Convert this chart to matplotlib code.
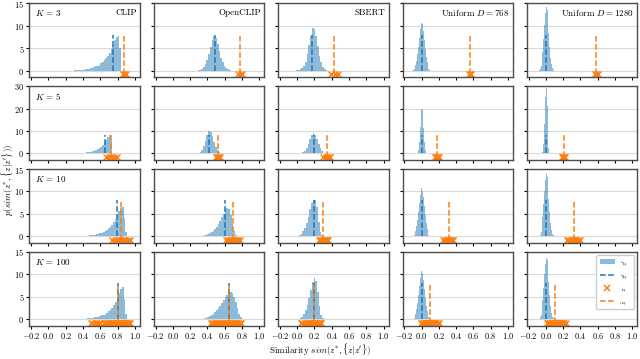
import numpy as np
import matplotlib
matplotlib.use("Agg")
import matplotlib.pyplot as plt
from matplotlib.patches import Patch
from matplotlib.lines import Line2D

plt.rcParams['font.family'] = 'serif'
plt.rcParams['font.serif'] = ['cmr10', 'DejaVu Serif']
plt.rcParams['mathtext.fontset'] = 'cm'
plt.rcParams['axes.formatter.use_mathtext'] = True

models = ["CLIP", "OpenCLIP", "SBERT", r"Uniform $D = 768$", r"Uniform $D = 1280$"]
ks = [3, 5, 10, 100]
row_ytop = [15, 30, 15, 15]

# bin widths per column (uniform columns are narrower)
bin_w = [0.02, 0.02, 0.02, 0.01, 0.01]

# histogram of z' similarities: (left edge of first bin, densities)
hist_k3 = [
    (0.30, [0.05, 0.07, 0.1, 0.12, 0.15, 0.2, 0.25, 0.3, 0.4, 0.5, 0.6, 0.75, 0.9, 1.1, 1.3, 1.6,
            1.9, 2.3, 2.8, 3.3, 4.0, 4.8, 5.8, 6.8, 7.5, 7.8, 5.0]),
    (0.29, [0.1, 0.2, 0.4, 0.8, 1.4, 2.3, 3.6, 5.2, 6.8, 7.8, 7.3, 6.0, 4.4, 2.9, 1.8, 1.0, 0.5, 0.25, 0.1]),
    (-0.01, [0.05, 0.1, 0.25, 0.5, 1.0, 2.0, 3.6, 5.6, 7.8, 9.4, 9.2, 7.6, 5.4, 3.3, 1.8, 0.8, 0.3, 0.1]),
    (-0.10, [0.1, 0.3, 0.6, 1.2, 2.2, 3.6, 5.3, 7.3, 9.2, 10.6, 11.0, 10.3, 8.8, 6.8, 4.8, 3.1, 1.8, 0.9, 0.4, 0.15]),
    (-0.08, [0.1, 0.4, 1.0, 2.2, 4.2, 7.0, 10.2, 12.8, 14.2, 13.6, 11.3, 8.3, 5.3, 2.9, 1.4, 0.6, 0.2]),
]
hist_k5 = [
    (0.26, [0.05, 0.06, 0.08, 0.1, 0.13, 0.17, 0.22, 0.28, 0.36, 0.46, 0.6, 0.75, 0.95, 1.2, 1.5, 1.9,
            2.4, 3.0, 3.8, 4.8, 6.0, 7.3, 8.2, 5.5]),
    (0.27, [0.1, 0.3, 0.7, 1.6, 3.2, 5.5, 8.0, 9.8, 9.6, 7.7, 5.2, 2.9, 1.4, 0.6, 0.2]),
    (0.02, [0.1, 0.3, 0.6, 1.3, 2.5, 4.3, 6.6, 8.4, 9.2, 8.4, 6.5, 4.2, 2.3, 1.1, 0.4, 0.15]),
    (-0.05, [0.3, 1.5, 5.0, 12.0, 20.0, 24.0, 19.5, 11.5, 5.0, 1.5, 0.3]),
    (-0.05, [0.1, 0.8, 4.0, 13.0, 25.0, 29.0, 21.0, 9.0, 2.5, 0.4]),
]
hist_k10 = [
    (0.33, [0.05, 0.06, 0.08, 0.1, 0.12, 0.15, 0.18, 0.22, 0.27, 0.33, 0.4, 0.48, 0.58, 0.7, 0.85, 1.0,
            1.2, 1.45, 1.75, 2.1, 2.6, 3.2, 3.9, 4.7, 5.6, 6.3, 6.5, 4.0, 1.0]),
    (0.30, [0.05, 0.1, 0.15, 0.2, 0.3, 0.45, 0.65, 0.9, 1.2, 1.6, 2.1, 2.7, 3.4, 4.2, 5.0, 5.8, 6.4, 6.2,
            4.8, 2.8, 1.1, 0.3]),
    (-0.02, [0.05, 0.15, 0.3, 0.6, 1.1, 1.9, 3.0, 4.4, 6.0, 7.4, 8.1, 8.2, 6.5, 3.2, 1.0, 0.2]),
    (-0.10, [0.1, 0.3, 0.6, 1.2, 2.3, 3.7, 5.4, 7.4, 9.3, 10.7, 11.1, 10.2, 8.7, 6.7, 4.7, 3.0, 1.7, 0.9, 0.4, 0.15]),
    (-0.08, [0.1, 0.4, 1.0, 2.3, 4.3, 7.1, 10.1, 12.6, 13.8, 13.3, 11.2, 8.4, 5.4, 3.0, 1.4, 0.6, 0.2]),
]
hist_k100 = [
    (0.33, [0.05, 0.06, 0.08, 0.1, 0.12, 0.15, 0.18, 0.22, 0.27, 0.33, 0.4, 0.48, 0.58, 0.7, 0.85, 1.0,
            1.2, 1.45, 1.75, 2.1, 2.6, 3.2, 3.9, 4.8, 5.8, 6.7, 7.1, 4.5, 1.2]),
    (0.30, [0.05, 0.1, 0.15, 0.25, 0.35, 0.5, 0.7, 0.95, 1.25, 1.6, 2.0, 2.5, 3.0, 3.6, 4.2, 4.9, 5.5,
            5.9, 6.1, 5.8, 5.0, 3.8, 2.4, 1.2, 0.5, 0.15]),
    (-0.01, [0.05, 0.15, 0.3, 0.6, 1.1, 2.0, 3.2, 4.8, 6.6, 8.3, 9.3, 8.6, 6.0, 3.0, 1.0, 0.2]),
    (-0.10, [0.1, 0.3, 0.6, 1.2, 2.2, 3.6, 5.4, 7.4, 9.3, 10.8, 11.1, 10.3, 8.7, 6.7, 4.7, 3.0, 1.8, 0.9, 0.4, 0.15]),
    (-0.08, [0.1, 0.4, 1.0, 2.2, 4.2, 7.0, 10.0, 12.4, 13.7, 13.2, 11.1, 8.3, 5.3, 2.9, 1.4, 0.6, 0.2]),
]
hists = [hist_k3, hist_k5, hist_k10, hist_k100]

# mean similarity of z' (blue) and of z (orange)
mean_zp = [
    [0.745, 0.485, 0.17, 0.0, 0.0],
    [0.655, 0.415, 0.19, 0.0, 0.0],
    [0.79, 0.606, 0.20, 0.0, 0.0],
    [0.80, 0.645, 0.19, 0.0, 0.0],
]
mean_z = [
    [0.88, 0.78, 0.43, 0.56, 0.585],
    [0.727, 0.52, 0.35, 0.18, 0.205],
    [0.84, 0.70, 0.30, 0.315, 0.32],
    [0.805, 0.645, 0.195, 0.095, 0.105],
]

# individual z similarities
z_k3 = [
    [0.86, 0.88, 0.895],
    [0.75, 0.79, 0.80],
    [0.39, 0.44, 0.47],
    [0.55, 0.56, 0.575],
    [0.57, 0.585, 0.60],
]
z_k5 = [
    [0.67, 0.70, 0.73, 0.76, 0.79],
    [0.50, 0.51, 0.52, 0.53, 0.545],
    [0.30, 0.33, 0.35, 0.37, 0.375],
    [0.16, 0.17, 0.18, 0.19, 0.20],
    [0.19, 0.20, 0.205, 0.21, 0.22],
]
z_k10 = [
    [0.74, 0.77, 0.80, 0.82, 0.84, 0.85, 0.87, 0.89, 0.92, 0.94],
    [0.62, 0.64, 0.66, 0.68, 0.69, 0.70, 0.72, 0.74, 0.76, 0.78],
    [0.25, 0.27, 0.28, 0.29, 0.30, 0.31, 0.32, 0.33, 0.34, 0.36],
    [0.25, 0.27, 0.29, 0.30, 0.31, 0.32, 0.33, 0.34, 0.36, 0.37],
    [0.24, 0.26, 0.28, 0.30, 0.31, 0.32, 0.34, 0.35, 0.37, 0.39],
]
z_k100 = [
    [0.49, 0.51, 0.535, 0.56, 0.585, 0.60, 0.64, 0.655, 0.67, 0.68, 0.695, 0.71, 0.72, 0.73, 0.745,
     0.755, 0.77, 0.78, 0.79, 0.80, 0.805, 0.815, 0.825, 0.83, 0.84, 0.85, 0.86, 0.865, 0.875, 0.885,
     0.89, 0.90, 0.91, 0.92, 0.935, 0.945],
    [0.44, 0.455, 0.47, 0.49, 0.50, 0.515, 0.53, 0.545, 0.555, 0.57, 0.58, 0.595, 0.605, 0.615, 0.625,
     0.635, 0.64, 0.65, 0.66, 0.67, 0.68, 0.69, 0.70, 0.71, 0.72, 0.735, 0.745, 0.76, 0.775, 0.795],
    [0.04, 0.06, 0.09, 0.11, 0.125, 0.14, 0.15, 0.16, 0.17, 0.175, 0.185, 0.19, 0.20, 0.21, 0.215,
     0.22, 0.23, 0.24, 0.25, 0.26, 0.27, 0.28],
    [-0.008, 0.005, 0.02, 0.03, 0.04, 0.05, 0.06, 0.07, 0.075, 0.085, 0.09, 0.10, 0.11, 0.115, 0.125,
     0.135, 0.14, 0.15, 0.16, 0.17, 0.185, 0.197],
    [0.01, 0.02, 0.035, 0.045, 0.055, 0.065, 0.075, 0.085, 0.09, 0.10, 0.11, 0.12, 0.13, 0.14, 0.15,
     0.16, 0.17, 0.185, 0.20, 0.215, 0.23],
]
zs = [z_k3, z_k5, z_k10, z_k100]

blue = '#1f77b4'
orange = '#ff7f0e'

fig, axes = plt.subplots(4, 5, figsize=(6.4, 3.59), dpi=100, sharex=True, sharey='row')
fig.subplots_adjust(left=0.046, right=0.996, top=0.991, bottom=0.092, wspace=0.125, hspace=0.12)

for r in range(4):
    ytop = row_ytop[r]
    mark_y = -0.05 * ytop
    for c in range(5):
        ax = axes[r, c]
        lo, heights = hists[r][c]
        edges = lo + bin_w[c] * np.arange(len(heights) + 1)
        ax.fill_between(edges, np.append(heights, heights[-1]), step='post', color=blue, alpha=0.5, lw=0)
        ax.vlines(mean_zp[r][c], 0, 8, colors=blue, linestyles='--', lw=1.1)
        ax.plot(zs[r][c], [mark_y] * len(zs[r][c]), 'x', color=orange, ms=3.8, mew=1.0)
        ax.vlines(mean_z[r][c], mark_y, 8, colors=orange, linestyles='--', lw=1.1)

        ax.set_xlim(-0.22, 1.06)
        ax.set_ylim(-0.1 * ytop, ytop)
        ax.set_xticks(np.arange(-0.2, 1.01, 0.2))
        ax.set_yticks(np.arange(0, ytop + 1, ytop // 3))
        ax.yaxis.grid(True, color='0.85', lw=0.8)
        ax.set_axisbelow(True)
        ax.tick_params(labelsize=6, length=2.5, width=0.8, pad=1.2)
        for sp in ax.spines.values():
            sp.set_linewidth(1.0)
            sp.set_color('0.3')
        if r == 0:
            ax.text(0.97, 0.93, models[c], transform=ax.transAxes, ha='right', va='top', fontsize=6.5)
        if c == 0:
            ax.text(0.05, 0.93, r'$K$ = %d' % ks[r], transform=ax.transAxes, ha='left', va='top', fontsize=6.5)

handles = [
    Patch(facecolor=blue, alpha=0.5),
    Line2D([], [], color=blue, ls='--', lw=1.1),
    Line2D([], [], color=orange, marker='x', ls='none', ms=4, mew=1.1),
    Line2D([], [], color=orange, ls='--', lw=1.1),
]
leg = axes[3, 4].legend(handles, [r"$z'$", r"$\bar{z}'$", r"$z$", r"$\bar{z}$"], loc='upper right',
                        fontsize=5, handlelength=2.2, labelspacing=0.9, borderpad=0.5, framealpha=1)
for t in leg.get_texts():
    t.set_rotation(90)

fig.text(0.012, 0.5, r"$p(sim(z^{*},\{z|z'\}))$", rotation=90, ha='center', va='center', fontsize=6.5)
fig.text(0.5, 0.004, r"Similarity $sim(z^{*},\{z|z'\})$", ha='center', va='bottom', fontsize=6.5)

fig.savefig("out.png", dpi=100)
